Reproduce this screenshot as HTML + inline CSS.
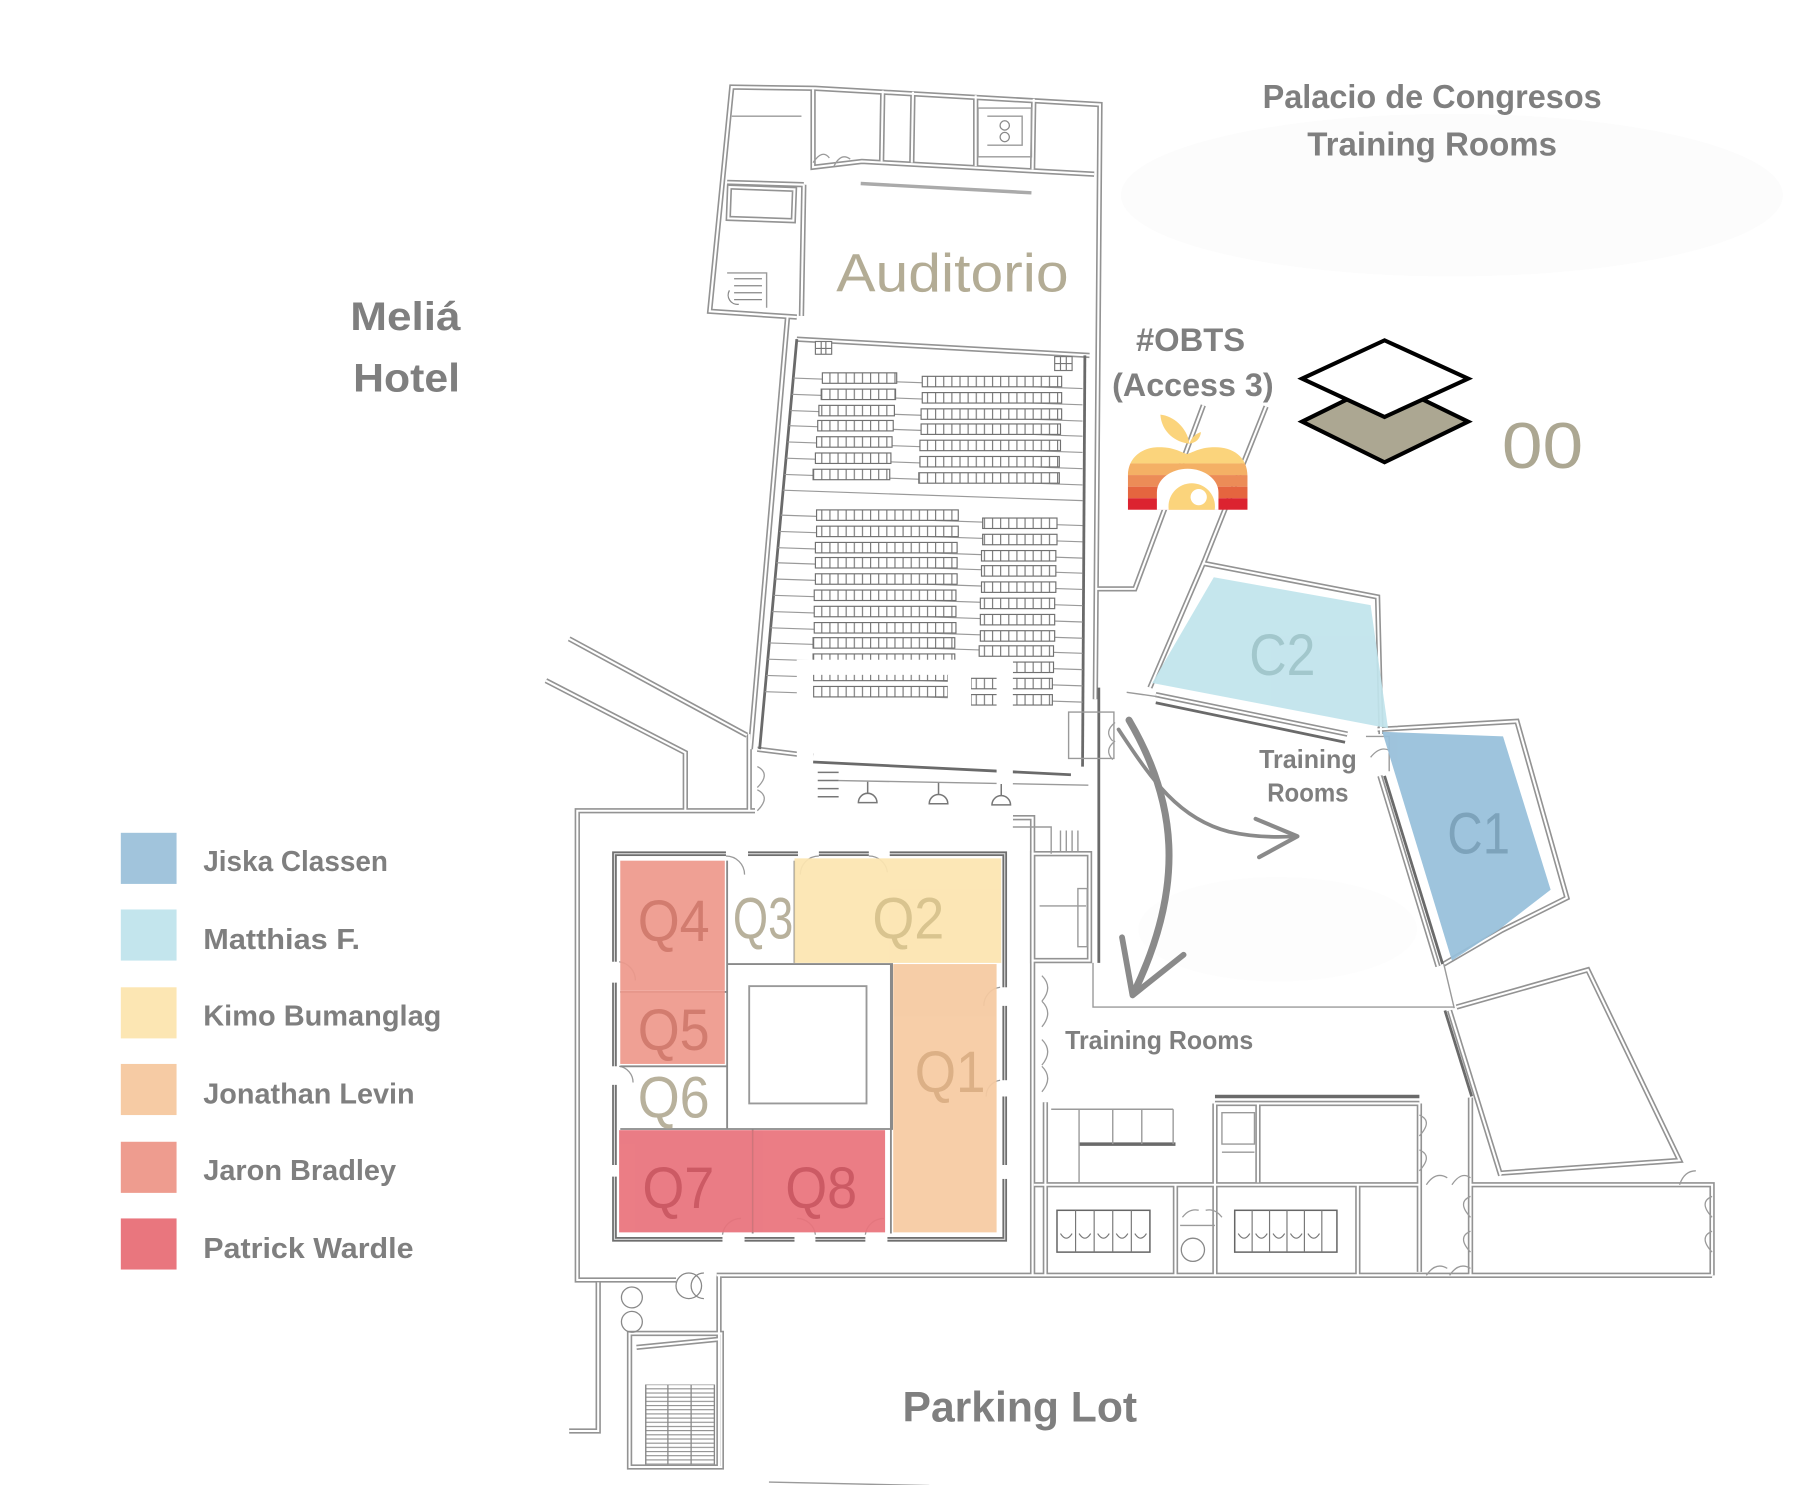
<!DOCTYPE html>
<html><head><meta charset="utf-8"><style>
html,body{margin:0;padding:0;background:#fff;}
svg{display:block;}
.t{font-family:"Liberation Sans",sans-serif;font-weight:bold;fill:#7f7f7f;}
.q{font-family:"Liberation Sans",sans-serif;font-weight:normal;}
</style></head><body>
<svg width="1812" height="1485" viewBox="0 0 1560 1278.5" xmlns="http://www.w3.org/2000/svg">
<defs>
<pattern id="seat" width="7" height="12" patternUnits="userSpaceOnUse"><rect width="7" height="12" fill="#fff"/><line x1="0.5" y1="0" x2="0.5" y2="12" stroke="#7a7a7a" stroke-width="1"/></pattern>
<pattern id="stair" width="10" height="3.6" patternUnits="userSpaceOnUse"><rect width="10" height="3.6" fill="#fff"/><line x1="0" y1="0.5" x2="10" y2="0.5" stroke="#888" stroke-width="0.9"/></pattern>
<g id="W">
<path d="M686,273 L611,268 L630,75 L702,76 L947,90 L943,602"/>
<path d="M626,157 L692,159"/>
<path d="M628,161 L684,163 L683,190 L627,188 Z"/>
<path d="M700,77 L700,144 L742,139 L942,150"/>
<path d="M692,159 L690,272"/>
<path d="M678,273 L646,645"/>
<path d="M686,292 L938,306"/>
<path d="M760,78 L759,139"/><path d="M786,79 L785,140"/><path d="M840,82 L840,143"/><path d="M890,85 L889,146"/>
<path d="M490,550 L643,633"/>
<path d="M470,586 L590,648 L590,698"/>
<path d="M645,632 L645,698"/>
<path d="M652,645 L700,651"/>
<path d="M650,698 L497,698 L497,1102 L582,1102"/>
<path d="M872,704 L889,704 L889,1098"/>
<path d="M617,1098 L1474,1098"/>
<path d="M889,735 L938,735 L938,827 L889,827 Z"/>
<path d="M990,592 L1036,485 L1186,514 L1189,632"/>
<path d="M1036,485 L1090,350"/>
<path d="M944,507 L977,507 L1036,349"/>
<path d="M995,598 L1160,632"/>
<path d="M1186,628 L1306,621 L1349,773 L1293,801 L1243,830"/>
<path d="M1188,668 L1238,832"/>
<path d="M1254,867 L1367,835 L1446,999 L1292,1010"/>
<path d="M1248,870 L1292,1012"/>
<path d="M890,1020 L1222,1020"/>
<path d="M1266,1020 L1474,1020 L1474,1098"/>
<path d="M1046,950 L1222,950"/>
<path d="M1012,1020 L1012,1098"/><path d="M1046,950 L1046,1098"/><path d="M1169,1020 L1169,1098"/>
<path d="M1222,950 L1222,1095"/><path d="M1266,945 L1266,1098"/>
<path d="M900,949 L900,1098"/><path d="M1083,950 L1083,1018"/>
<path d="M515,1104 L515,1232 L490,1232"/>
<path d="M619,1098 L619,1263"/>
<path d="M542,1148 L621,1148 L621,1263 L542,1263 Z"/>
<path d="M548,1160 L619,1153"/>
</g>
</defs>
<rect width="1560" height="1278.5" fill="#fff"/>
<!-- faint clouds -->
<ellipse cx="1250" cy="168" rx="285" ry="70" fill="#fcfcfc"/>
<ellipse cx="1100" cy="800" rx="120" ry="45" fill="#fdfdfd"/>

<use href="#W" fill="none" stroke="#939393" stroke-width="4.6" stroke-linejoin="miter"/>
<use href="#W" fill="none" stroke="#fff" stroke-width="1.8"/>

<!-- dark lines -->
<g fill="none" stroke="#6a6a6a" stroke-width="2.4">
<path d="M686,292 L654,645"/>
<path d="M934,306 L932,660"/>
<path d="M700,656 L922,667"/>
<path d="M946,592 L946,829"/>
<path d="M995,605 L1158,639"/>
<path d="M1192,668 L1242,830"/>
<path d="M1244,870 L1267,944"/>
<path d="M1046,944 L1222,944" stroke-width="3"/>
<path d="M929,985 L1012,985" stroke-width="3"/>
</g>

<!-- thin lines -->
<g fill="none" stroke="#9a9a9a" stroke-width="1.2">
<path d="M741,158 L888,166" stroke-width="3" stroke="#aaa"/>
<path d="M722,672 L937,676"/>
<path d="M941,829 L941,867 L1252,867"/>
<path d="M970,596 L998,600"/>
<path d="M1243,830 L1252,868"/>
<path d="M905,955 L1010,955"/>
<path d="M929,955 L929,1018"/><path d="M958,955 L958,985"/><path d="M983,955 L983,985"/><path d="M1010,955 L1010,985"/>
<path d="M1052,958 L1080,958 L1080,985 L1052,985 Z"/>
<path d="M1052,992 L1080,992"/>
<path d="M895,780 L935,780"/>
<path d="M928,765 L936,765 L936,815 L928,815 Z"/>
<path d="M872,712 L905,712 L905,735"/>
<path d="M913,715 L913,733 M918,715 L918,733 M923,715 L923,733 M928,715 L928,733"/>
<path d="M920,613 L959,613 L959,653 L920,653 Z"/>
<path d="M1176,634 L1196,634 L1196,664"/>
<path d="M1016,1055 L1046,1055"/>
<path d="M662,1276 L800,1279"/>
<path d="M556,1192 L556,1261 M575,1192 L575,1261 M595,1192 L595,1261 M615,1192 L615,1261"/>
<path d="M630,100 L690,100"/>
<path d="M842,93 L888,93 L888,135 L842,135 Z"/>
<path d="M850,100 L880,100 L880,125 L850,125"/>
<path d="M626,235 L660,235 L660,265"/>
</g>
<rect x="556" y="1192" width="59" height="69" fill="url(#stair)"/>
<g fill="none" stroke="#888" stroke-width="1.1">
<path d="M556,1192 L556,1261 M575,1192 L575,1261 M595,1192 L595,1261 M615,1192 L615,1261"/>
<circle cx="593" cy="1107" r="11"/><path d="M606,1096 A11,11 0 0 0 606,1118"/>
<circle cx="544" cy="1117" r="9"/><circle cx="544" cy="1138" r="9"/>
<circle cx="1027" cy="1076" r="10"/>
<circle cx="865" cy="108" r="4"/><circle cx="865" cy="118" r="4"/>
<path d="M628,250 A8,8 0 0 0 636,262"/>
<path d="M632,240 L656,240 M632,246 L656,246 M632,252 L656,252 M632,258 L656,258"/>
</g>

<!-- toilets -->
<g fill="#fff" stroke="#666" stroke-width="1.3">
<rect x="910" y="1042" width="80" height="36"/>
<rect x="1063" y="1042" width="88" height="36"/>
</g>
<g fill="none" stroke="#777" stroke-width="1">
<path d="M926,1042 L926,1078 M942,1042 L942,1078 M958,1042 L958,1078 M974,1042 L974,1078"/>
<path d="M1078,1042 L1078,1078 M1093,1042 L1093,1078 M1108,1042 L1108,1078 M1123,1042 L1123,1078 M1138,1042 L1138,1078"/>
<path d="M913,1062 q5,8 10,0 M929,1062 q5,8 10,0 M945,1062 q5,8 10,0 M961,1062 q5,8 10,0 M977,1062 q5,8 10,0"/>
<path d="M1066,1062 q5,8 10,0 M1081,1062 q5,8 10,0 M1096,1062 q5,8 10,0 M1111,1062 q5,8 10,0 M1126,1062 q5,8 10,0"/>
</g>

<!-- seating: row lines -->
<g stroke="#9a9a9a" stroke-width="1">
<line x1="683" y1="325.5" x2="932" y2="334.5"/>
<line x1="681.7" y1="339.5" x2="932" y2="348.5"/>
<line x1="680.4" y1="353.5" x2="932" y2="362.5"/>
<line x1="679.2" y1="366.5" x2="932" y2="375.5"/>
<line x1="678" y1="380.5" x2="932" y2="389.5"/>
<line x1="676.7" y1="394.5" x2="932" y2="403.5"/>
<line x1="675.4" y1="408.5" x2="932" y2="417.5"/>
<line x1="674" y1="422" x2="932" y2="431"/>
<line x1="672.3" y1="443.5" x2="932" y2="452.5"/>
<line x1="671" y1="457.5" x2="932" y2="466.5"/>
<line x1="669.7" y1="471.5" x2="932" y2="480.5"/>
<line x1="668.5" y1="484.5" x2="932" y2="493.5"/>
<line x1="667.3" y1="498.5" x2="932" y2="507.5"/>
<line x1="666" y1="512.5" x2="932" y2="521.5"/>
<line x1="664.7" y1="526.5" x2="932" y2="535.5"/>
<line x1="663.4" y1="540.5" x2="932" y2="549.5"/>
<line x1="662.3" y1="553.5" x2="932" y2="562.5"/>
<line x1="661" y1="567.5" x2="932" y2="576.5"/>
<line x1="659.7" y1="581.5" x2="932" y2="590.5"/>
<line x1="658.5" y1="595.5" x2="932" y2="604.5"/>
</g>
<!-- seat rows -->
<g fill="url(#seat)" stroke="#707070" stroke-width="1">
<rect x="708" y="321" width="64" height="9"/>
<rect x="707" y="335" width="64" height="9"/>
<rect x="705" y="349" width="65" height="9"/>
<rect x="704" y="362" width="65" height="9"/>
<rect x="703" y="376" width="65" height="9"/>
<rect x="702" y="390" width="65" height="9"/>
<rect x="700" y="404" width="66" height="9"/>
<rect x="794" y="324" width="120" height="9"/>
<rect x="794" y="338" width="120" height="9"/>
<rect x="793" y="352" width="121" height="9"/>
<rect x="793" y="365" width="120" height="9"/>
<rect x="792" y="379" width="121" height="9"/>
<rect x="792" y="393" width="120" height="9"/>
<rect x="791" y="407" width="121" height="9"/>
<rect x="703" y="439" width="122" height="9"/>
<rect x="703" y="453" width="122" height="9"/>
<rect x="702" y="467" width="122" height="9"/>
<rect x="702" y="480" width="122" height="9"/>
<rect x="702" y="494" width="122" height="9"/>
<rect x="701" y="508" width="122" height="9"/>
<rect x="701" y="522" width="122" height="9"/>
<rect x="701" y="536" width="122" height="9"/>
<rect x="700" y="549" width="122" height="9"/>
<rect x="700" y="563" width="122" height="9"/>
<rect x="700" y="577" width="116" height="9"/>
<rect x="700" y="591" width="116" height="9"/>
<rect x="846" y="446" width="64" height="9"/>
<rect x="846" y="460" width="64" height="9"/>
<rect x="845" y="474" width="64" height="9"/>
<rect x="845" y="487" width="64" height="9"/>
<rect x="845" y="501" width="64" height="9"/>
<rect x="844" y="515" width="64" height="9"/>
<rect x="844" y="529" width="64" height="9"/>
<rect x="844" y="543" width="64" height="9"/>
<rect x="843" y="556" width="64" height="9"/>
<rect x="843" y="570" width="64" height="9"/>
<rect x="836" y="584" width="70" height="9"/>
<rect x="836" y="598" width="70" height="9"/>
</g>
<!-- small stair grids -->
<g fill="#fff" stroke="#777" stroke-width="1">
<rect x="702" y="294" width="14" height="11"/><path d="M707,294 V305 M711,294 V305 M702,300 H716" fill="none"/>
<rect x="908" y="307" width="15" height="12"/><path d="M913,307 V319 M918,307 V319 M908,313 H923" fill="none"/>
</g>
<!-- mask frame -->
<g fill="#fff">
<rect x="686" y="568" width="186" height="13"/>
<rect x="686" y="568" width="14" height="142"/>
<rect x="858" y="568" width="14" height="142"/>
<rect x="686" y="697" width="186" height="13"/>
<rect x="816" y="581" width="20" height="30"/>
</g>
<!-- lamps -->
<g fill="none" stroke="#777" stroke-width="1.3">
<path d="M747,673 V683 M808,674 V684 M862,675 V685"/>
<path d="M739,691 A8,8 0 0 1 755,691 Z M800,692 A8,8 0 0 1 816,692 Z M854,693 A8,8 0 0 1 870,693 Z"/>
<path d="M704,665 L722,665 M704,672 L722,672 M704,679 L722,679 M704,686 L722,686"/>
</g>

<!-- Q block inner wall -->
<g fill="none">
<rect x="529" y="735" width="336" height="332" stroke="#6e6e6e" stroke-width="4"/>
<rect x="529" y="735" width="336" height="332" stroke="#d8d8d8" stroke-width="1"/>
</g>
<g fill="#fff">
<rect x="625" y="731" width="19" height="8"/><rect x="687" y="731" width="18" height="8"/><rect x="748" y="731" width="18" height="8"/>
<rect x="622" y="1063" width="19" height="8"/><rect x="684" y="1063" width="18" height="8"/><rect x="745" y="1063" width="19" height="8"/>
<rect x="525" y="828" width="8" height="18"/><rect x="525" y="918" width="8" height="16"/><rect x="525" y="1003" width="8" height="10"/>
<rect x="861" y="850" width="8" height="16"/><rect x="861" y="930" width="8" height="14"/><rect x="861" y="1003" width="8" height="12"/>
</g>
<g fill="none" stroke="#9a9a9a" stroke-width="1.1">
<path d="M625,737 a16,16 0 0 1 16,16 M705,737 a16,16 0 0 0 -16,16 M748,737 a16,16 0 0 1 16,14"/>
<path d="M622,1063 a16,16 0 0 1 16,-14 M702,1063 a16,16 0 0 0 -16,-14 M745,1063 a16,16 0 0 1 16,-14"/>
<path d="M533,828 a16,16 0 0 1 14,16 M533,918 a14,14 0 0 1 12,14 M861,850 a16,16 0 0 0 -14,16 M861,930 a14,14 0 0 0 -12,14"/>
<path d="M897,840 q10,10 0,22 M897,862 q10,10 0,22 M897,895 q10,10 0,22 M897,918 q10,10 0,22"/>
<path d="M960,622 q-10,8 -2,16 M960,638 q-10,8 -2,16"/>
<path d="M1222,960 q12,5 0,18 M1222,990 q12,5 0,18 M1266,1030 q-12,5 0,18 M1266,1060 q-12,5 0,18"/>
<path d="M1228,1020 q8,-12 18,-6 M1250,1020 q8,-12 16,-6 M1228,1098 q8,-12 18,-6 M1248,1098 q8,-12 18,-6"/>
<path d="M1474,1030 q-12,5 0,18 M1474,1060 q-12,5 0,18 M1446,1020 q4,-12 14,-12"/>
<path d="M1018,1048 q6,-8 14,-6 M1052,1048 q-6,-8 -14,-6"/>
<path d="M1180,652 q8,-10 16,-6"/>
<path d="M652,660 q12,6 0,18 M652,680 q12,6 0,18"/>
<path d="M700,140 q8,-12 14,-4 M718,143 q6,-12 14,-6"/>
</g>
<!-- Q interior walls -->
<g fill="none" stroke="#8a8a8a" stroke-width="1.6">
<path d="M626,741 L626,972"/>
<path d="M684,741 L684,829"/>
<path d="M626,830 L768,830 L768,972 L534,972"/>
<path d="M534,854 L626,854"/>
<path d="M534,918 L626,918"/>
<path d="M648,972 L648,1062"/>
<path d="M767,830 L767,1062"/>
</g>
<rect x="645" y="849" width="101" height="101" fill="#fff" stroke="#999" stroke-width="1.6"/>

<!-- room fills -->
<g opacity="0.93">
<rect x="534" y="741" width="90" height="112" fill="#ee998c"/>
<rect x="534" y="853" width="90" height="63" fill="#ee998c"/>
<rect x="684" y="739" width="178" height="90" fill="#fce5b0"/>
<rect x="769" y="830" width="89" height="231" fill="#f6caa1"/>
<rect x="533" y="973" width="115" height="88" fill="#e9737c"/>
<rect x="648" y="973" width="114" height="88" fill="#e9737c"/>
<polygon points="1045,497 1180,521 1195,627 992,588" fill="#c1e4ec"/>
<polygon points="1190,630 1294,634 1335,766 1291,800 1250,827" fill="#97bfda"/>
</g>
<g fill="none" stroke="#c4757a" stroke-width="1" opacity="0.6">
<path d="M648,973 L648,1061"/>
</g>

<!-- room labels -->
<g class="q" font-size="50" text-anchor="middle">
<text x="580" y="810" fill="#d27c6f" textLength="62" lengthAdjust="spacingAndGlyphs">Q4</text>
<text x="657" y="808" fill="#b8b19c" textLength="52" lengthAdjust="spacingAndGlyphs">Q3</text>
<text x="782" y="808" fill="#d9c48f" textLength="62" lengthAdjust="spacingAndGlyphs">Q2</text>
<text x="580" y="904" fill="#d27c6f" textLength="62" lengthAdjust="spacingAndGlyphs">Q5</text>
<text x="580" y="962" fill="#b8b19c" textLength="62" lengthAdjust="spacingAndGlyphs">Q6</text>
<text x="818" y="940" fill="#dcb086" textLength="61" lengthAdjust="spacingAndGlyphs">Q1</text>
<text x="584" y="1040" fill="#cc5a64" textLength="62" lengthAdjust="spacingAndGlyphs">Q7</text>
<text x="707" y="1040" fill="#cc5a64" textLength="62" lengthAdjust="spacingAndGlyphs">Q8</text>
<text x="1104" y="581" fill="#a2c7cc" textLength="57" lengthAdjust="spacingAndGlyphs">C2</text>
<text x="1273" y="735" fill="#7da3bb" textLength="54" lengthAdjust="spacingAndGlyphs">C1</text>
</g>
<text class="q" x="720" y="251" font-size="46" fill="#b3ac95" textLength="200" lengthAdjust="spacingAndGlyphs">Auditorio</text>

<!-- arrows -->
<g fill="none" stroke="#8a8a8a" stroke-linecap="round" stroke-linejoin="round">
<path d="M963,628 C992,672 1015,705 1058,716 C1080,721 1100,721 1116,720" stroke-width="3.2"/>
<path d="M1081,705 L1117,720 L1084,738" stroke-width="3.6"/>
<path d="M972,620 C1012,688 1022,760 976,855" stroke-width="6"/>
<path d="M966,807 L975,857 L1019,822" stroke-width="5"/>
</g>

<!-- layer icon -->
<g stroke="#000" stroke-width="3.5" stroke-linejoin="miter">
<polygon points="1121,363 1192,328 1264,363 1192,398" fill="#aca792"/>
<polygon points="1121,326 1192,293 1264,326 1192,359" fill="#fff"/>
</g>
<text class="q" x="1293" y="403" font-size="56" fill="#aca792" textLength="70" lengthAdjust="spacingAndGlyphs">00</text>

<!-- apple logo -->
<defs>
<clipPath id="apc"><path d="M971,439 L971,410 C971,393 984,385 998,385 C1010,385 1016,389 1022,391 C1028,389 1034,385 1046,385 C1061,385 1074,393 1074,410 L1074,439 Z"/></clipPath>
<clipPath id="arch"><path d="M996,439 L996,420 A26,14 0 0 1 1049,420 L1049,439 Z"/></clipPath>
</defs>
<g clip-path="url(#apc)">
<rect x="965" y="380" width="115" height="19" fill="#fbd47c"/>
<rect x="965" y="399" width="115" height="10" fill="#f4b065"/>
<rect x="965" y="409" width="115" height="10" fill="#ec8c57"/>
<rect x="965" y="419" width="115" height="10" fill="#e5653f"/>
<rect x="965" y="429" width="115" height="10" fill="#dc2330"/>
</g>
<path d="M996,439 L996,424 A26,20 0 0 1 1049,424 L1049,439 Z" fill="#fff"/>
<g clip-path="url(#arch)">
<circle cx="1026" cy="436" r="20" fill="#fbd47c"/>
<circle cx="1032" cy="428" r="7" fill="#fff"/>
</g>
<path d="M999,357 C1010,358 1022,368 1024,382 C1012,381 1000,372 999,357 Z" fill="#fbd47c"/>
<path d="M1024,382 C1026,376 1030,373 1034,372 C1033,378 1030,381 1024,382 Z" fill="#fbd47c"/>

<!-- texts -->
<g class="t">
<text x="1233" y="93" font-size="29" text-anchor="middle" textLength="292" lengthAdjust="spacingAndGlyphs">Palacio de Congresos</text>
<text x="1233" y="134" font-size="29" text-anchor="middle" textLength="215" lengthAdjust="spacingAndGlyphs">Training Rooms</text>
<text x="349" y="284" font-size="34" text-anchor="middle" textLength="95" lengthAdjust="spacingAndGlyphs">Meliá</text>
<text x="350" y="337" font-size="34" text-anchor="middle" textLength="92" lengthAdjust="spacingAndGlyphs">Hotel</text>
<text x="1025" y="302" font-size="28" text-anchor="middle" textLength="94" lengthAdjust="spacingAndGlyphs">#OBTS</text>
<text x="1027" y="341" font-size="28" text-anchor="middle" textLength="139" lengthAdjust="spacingAndGlyphs">(Access 3)</text>
<text x="1126" y="661" font-size="22" text-anchor="middle" textLength="84" lengthAdjust="spacingAndGlyphs">Training</text>
<text x="1126" y="690" font-size="22" text-anchor="middle" textLength="70" lengthAdjust="spacingAndGlyphs">Rooms</text>
<text x="917" y="903" font-size="22" textLength="162" lengthAdjust="spacingAndGlyphs">Training Rooms</text>
<text x="777" y="1224" font-size="37" textLength="202" lengthAdjust="spacingAndGlyphs">Parking Lot</text>
</g>

<!-- legend -->
<rect x="104" y="717" width="48" height="44" fill="#a1c4dc"/>
<rect x="104" y="783" width="48" height="44" fill="#c3e5ed"/>
<rect x="104" y="850" width="48" height="44" fill="#fce6b3"/>
<rect x="104" y="916" width="48" height="44" fill="#f6cba4"/>
<rect x="104" y="983" width="48" height="44" fill="#ee9c8f"/>
<rect x="104" y="1049" width="48" height="44" fill="#e9767e"/>
<g class="t" font-size="25">
<text x="175" y="750" textLength="159" lengthAdjust="spacingAndGlyphs">Jiska Classen</text>
<text x="175" y="817" textLength="135" lengthAdjust="spacingAndGlyphs">Matthias F.</text>
<text x="175" y="883" textLength="205" lengthAdjust="spacingAndGlyphs">Kimo Bumanglag</text>
<text x="175" y="950" textLength="182" lengthAdjust="spacingAndGlyphs">Jonathan Levin</text>
<text x="175" y="1016" textLength="166" lengthAdjust="spacingAndGlyphs">Jaron Bradley</text>
<text x="175" y="1083" textLength="181" lengthAdjust="spacingAndGlyphs">Patrick Wardle</text>
</g>
</svg>
</body></html>
